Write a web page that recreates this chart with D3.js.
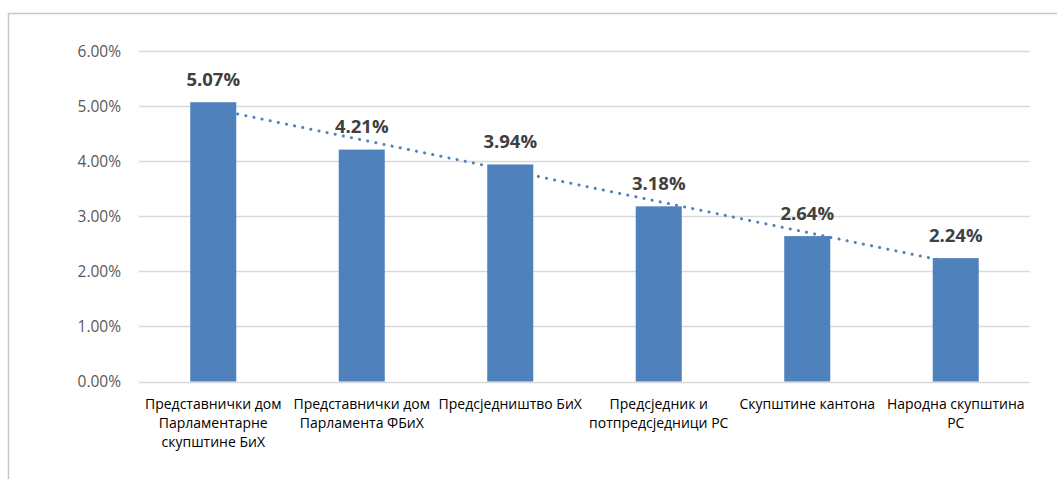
<!DOCTYPE html>
<html>
<head>
<meta charset="utf-8">
<script src="https://cdn.jsdelivr.net/npm/d3@7"></script>
<style>
  body { margin: 0; background: #fff; }
  svg { display: block; font-family: "Open Sans", "Noto Sans", sans-serif; }
</style>
</head>
<body>
<div id="chart"></div>
<script>
const categories = [
  ["Представнички дом", "Парламентарне", "скупштине БиХ"],
  ["Представнички дом", "Парламента ФБиХ"],
  ["Предсједништво БиХ"],
  ["Предсједник и", "потпредсједници РС"],
  ["Скупштине кантона"],
  ["Народна скупштина", "РС"]
];
const values = [5.07, 4.21, 3.94, 3.18, 2.64, 2.24];
const yTicks = [0, 1, 2, 3, 4, 5, 6];

const width = 1057;
const height = 479;
const margin = { top: 51, right: 27, bottom: 97, left: 139 };

const svg = d3.select("#chart")
  .append("svg")
  .attr("width", width)
  .attr("height", height);

// chart frame (only top and left edges are visible in the crop)
svg.append("path")
  .attr("d", `M8.5,${height} V13.5 H${width}`)
  .attr("fill", "none")
  .attr("stroke", "#c8c8c8")
  .attr("stroke-width", 1.5);

const keys = categories.map((d, i) => i);

const x = d3.scaleBand()
  .domain(keys)
  .range([margin.left, width - margin.right])
  .paddingInner(0.69)
  .paddingOuter(0.345);

const y = d3.scaleLinear()
  .domain([0, 6])
  .range([height - margin.bottom - 0.5, margin.top]);

// gridlines
svg.append("g")
  .selectAll("line")
  .data(yTicks)
  .join("line")
  .attr("x1", margin.left)
  .attr("x2", width - margin.right)
  .attr("y1", d => Math.round(y(d)) + 0.5)
  .attr("y2", d => Math.round(y(d)) + 0.5)
  .attr("stroke", "#d9d9d9")
  .attr("stroke-width", 1.3);

// y tick labels
svg.append("g")
  .selectAll("text")
  .data(yTicks)
  .join("text")
  .attr("x", margin.left - 18)
  .attr("y", d => y(d))
  .attr("dy", "0.36em")
  .attr("text-anchor", "end")
  .attr("fill", "#595959")
  .style("font-size", "15.5px")
  .text(d => d.toFixed(2) + "%");

// linear trendline (least squares over the bars), drawn behind the bars
const n = values.length;
const xs = keys.map(k => k + 1);
const mx = d3.mean(xs);
const my = d3.mean(values);
const slope = d3.sum(xs, (v, i) => (v - mx) * (values[i] - my)) / d3.sum(xs, v => (v - mx) ** 2);
const icpt = my - slope * mx;
const cx = k => x(k) + x.bandwidth() / 2;

svg.append("line")
  .attr("x1", cx(0))
  .attr("y1", y(icpt + slope * 1))
  .attr("x2", cx(n - 1))
  .attr("y2", y(icpt + slope * n))
  .attr("stroke", "#4f81bd")
  .attr("stroke-width", 3)
  .attr("stroke-linecap", "round")
  .attr("stroke-dasharray", "0.1 8.2");

// bars
svg.append("g")
  .selectAll("rect")
  .data(values)
  .join("rect")
  .attr("x", (d, i) => x(i))
  .attr("y", d => y(d))
  .attr("width", x.bandwidth())
  .attr("height", d => y(0) - y(d))
  .attr("fill", "#4f81bd");

// value labels
svg.append("g")
  .selectAll("text")
  .data(values)
  .join("text")
  .attr("x", (d, i) => cx(i))
  .attr("y", d => y(d) - 16.5)
  .attr("text-anchor", "middle")
  .attr("fill", "#404040")
  .style("font-size", "18.5px")
  .style("font-weight", "bold")
  .text(d => d.toFixed(2) + "%");

// category labels
const cat = svg.append("g")
  .selectAll("text")
  .data(categories)
  .join("text")
  .attr("x", (d, i) => cx(i))
  .attr("y", height - margin.bottom + 27)
  .attr("text-anchor", "middle")
  .attr("fill", "#000")
  .style("font-size", "14px");

cat.selectAll("tspan")
  .data(d => d)
  .join("tspan")
  .attr("x", function() { return d3.select(this.parentNode).attr("x"); })
  .attr("dy", (d, i) => i === 0 ? 0 : 19)
  .text(d => d);
</script>
</body>
</html>
